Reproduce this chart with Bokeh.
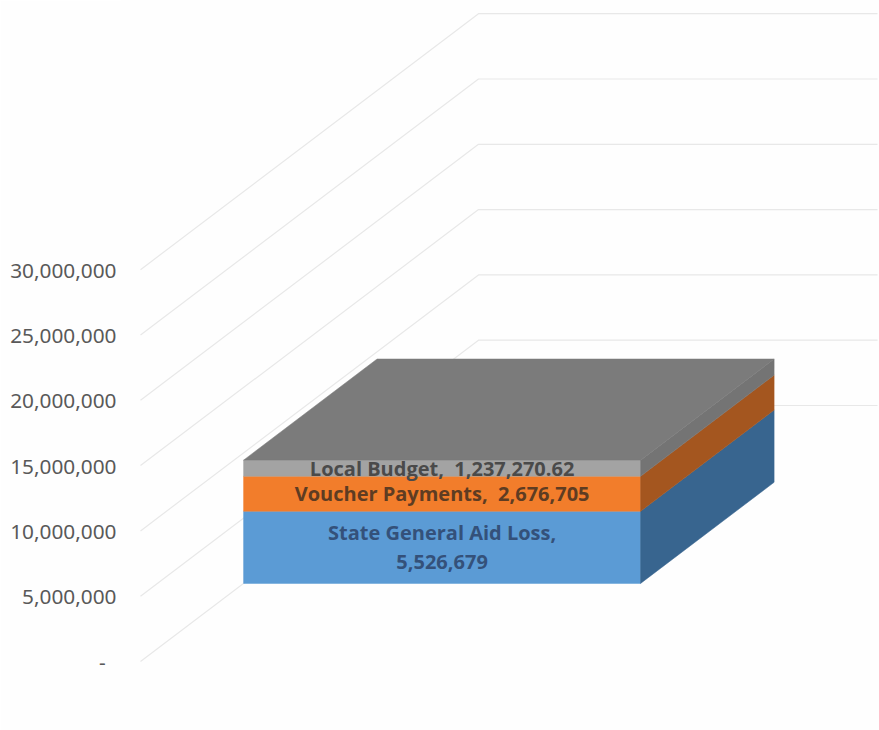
from bokeh.core.properties import value
from bokeh.embed import file_html
from bokeh.models import FixedTicker
from bokeh.plotting import figure
from bokeh.resources import INLINE

# Stacked series, bottom to top
series_names = ["State General Aid Loss", "Voucher Payments", "Local Budget"]
series_values = [5526679, 2676705, 1237270.62]
series_labels = ["State General Aid Loss,\n5,526,679", "Voucher Payments,\u00a0 2,676,705", "Local Budget,\u00a0 1,237,270.62"]
front_colors = ["#5B9BD5", "#F27D2B", "#A3A3A3"]
side_colors = ["#38658F", "#A4561F", "#747474"]
label_colors = ["#34517A", "#5E3C22", "#4A4A4A"]
top_color = "#7B7B7B"

tick_values = [0, 5000000, 10000000, 15000000, 20000000, 25000000, 30000000]
tick_labels = ["-\u00a0\u00a0", "5,000,000", "10,000,000", "15,000,000", "20,000,000", "25,000,000", "30,000,000"]

# Oblique projection of the 3-D column chart
PX_PER_UNIT = 13.06e-6
WALL_X = 140.0
FLOOR_WIDTH = 397.0
BACK_WIDTH = 399.0
DEPTH_X = 338.0
DEPTH_Y = 256.0 / PX_PER_UNIT
BAR_NEAR, BAR_FAR = 0.305, 0.70


def project(u, v, d):
    """Map category position u, stacked value v and depth d to plot coordinates."""
    return WALL_X + FLOOR_WIDTH * u + DEPTH_X * d, v + DEPTH_Y * d


p = figure(
    width=879, height=730,
    x_range=(120, 879),
    y_range=(-69 / PX_PER_UNIT, 661 / PX_PER_UNIT),
    x_axis_location=None,
    y_axis_location="left",
    output_backend="svg",
    toolbar_location=None,
    min_border_left=120, min_border_right=0, min_border_top=0, min_border_bottom=0,
    outline_line_color=None,
    background_fill_color="#FEFEFE",
    border_fill_color="#FEFEFE",
)
p.grid.visible = False

axis = p.yaxis[0]
axis.ticker = FixedTicker(ticks=tick_values)
axis.major_label_overrides = dict(zip(tick_values, tick_labels))
axis.axis_line_color = None
axis.major_tick_line_color = None
axis.minor_tick_line_color = None
axis.major_tick_out = 0
axis.major_tick_in = 0
axis.major_label_standoff = 4
axis.major_label_text_font = "Noto Sans"
axis.major_label_text_font_size = "20.8px"
axis.major_label_text_color = "#595959"

# Gridlines: along the side wall, then across the back wall
for tick in tick_values:
    x0, y0 = project(0, tick, 0)
    x1, y1 = project(0, tick, 1)
    x2, y2 = project(BACK_WIDTH / FLOOR_WIDTH, tick, 1)
    p.line([x0, x1, x2], [y0, y1, y2], line_color="#E8E8E8", line_width=1.2)

# Stacked block: front and side face of each segment
base = 0.0
for val, front, side in zip(series_values, front_colors, side_colors):
    top = base + val
    corners = [project(0, base, BAR_NEAR), project(1, base, BAR_NEAR),
               project(1, top, BAR_NEAR), project(0, top, BAR_NEAR)]
    p.patch([c[0] for c in corners], [c[1] for c in corners],
            fill_color=front, line_color=front, line_width=0.5)
    corners = [project(1, base, BAR_NEAR), project(1, base, BAR_FAR),
               project(1, top, BAR_FAR), project(1, top, BAR_NEAR)]
    p.patch([c[0] for c in corners], [c[1] for c in corners],
            fill_color=side, line_color=side, line_width=0.5)
    base = top

corners = [project(0, base, BAR_NEAR), project(1, base, BAR_NEAR),
           project(1, base, BAR_FAR), project(0, base, BAR_FAR)]
p.patch([c[0] for c in corners], [c[1] for c in corners],
        fill_color=top_color, line_color=top_color, line_width=0.5)

# Data labels centred on each segment's front face
base = 0.0
for val, label, color in zip(series_values, series_labels, label_colors):
    x, y = project(0.5, base + val / 2, BAR_NEAR)
    p.text([x], [y], text=[label], text_color=color,
           text_font=value("Open Sans"), text_font_style="bold", text_font_size="20px",
           text_align="center", text_baseline="middle", text_line_height=1.065)
    base += val

open("out.html", "w").write(file_html(p, INLINE))
